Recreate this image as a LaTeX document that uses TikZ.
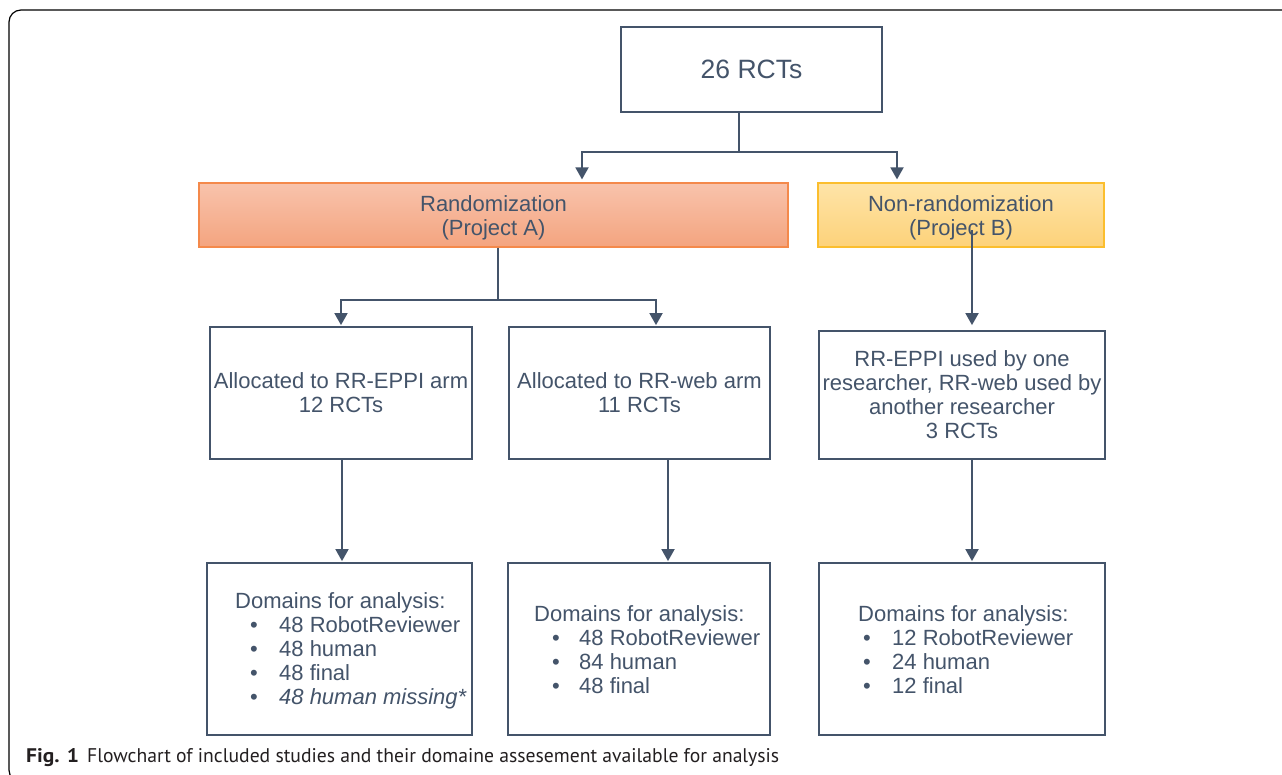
\documentclass[tikz,border=0pt]{standalone}
\usepackage{fontspec}
\setmainfont{Liberation Sans}
\newfontfamily\capfont{PT Sans}
\usetikzlibrary{arrows.meta}
\definecolor{ink}{HTML}{44546A}
\definecolor{capink}{HTML}{231F20}
\definecolor{randtop}{HTML}{F8C3AC}
\definecolor{randbot}{HTML}{F4A47F}
\definecolor{randedge}{HTML}{F4894B}
\definecolor{nrtop}{HTML}{FEE4A8}
\definecolor{nrbot}{HTML}{FDD27A}
\definecolor{nredge}{HTML}{FBBE2E}
\newcommand{\bl}[3]{\hspace*{#1pt}\makebox[#2pt][l]{\textbullet}#3}
\begin{document}
\begin{tikzpicture}[x=1pt,y=-1pt,
  box/.style={draw=ink, line width=1.8pt, fill=white, text=ink, align=center,
    font=\fontsize{22}{24}\selectfont, inner sep=0pt},
  projbox/.style={line width=1.2pt, text=ink, align=center,
    font=\fontsize{22}{24}\selectfont, inner sep=0pt},
  txt/.style={text=ink, align=left, font=\fontsize{22}{24}\selectfont, inner sep=0pt},
  conn/.style={draw=ink, line width=1.8pt},
  arr/.style={conn, -{Triangle[width=13pt,length=12pt]}}]
\useasboundingbox (0,0) rectangle (1282,774);
\fill[white] (0,0) rectangle (1282,774);
\begin{scope}
\clip (0,0) rectangle (1282,774);
\draw[black, line width=1.2pt, rounded corners=12pt] (9,10) rectangle (1300,782);
\end{scope}

% boxes
\node[box, minimum width=261pt, minimum height=85pt, font=\fontsize{26.5}{28}\selectfont] (top) at (751.5,69.5) {26 RCTs};
\node[projbox, draw=randedge, top color=randtop, bottom color=randbot,
  minimum width=589pt, minimum height=64pt] (rand) at (493.5,215) {\rule{0pt}{22pt}Randomization\\(Project A)};
\node[projbox, draw=nredge, top color=nrtop, bottom color=nrbot,
  minimum width=286pt, minimum height=64pt] (nonrand) at (961,215) {\rule{0pt}{22pt}Non-randomization\\(Project B)};

\node[box, minimum width=262pt, minimum height=132pt] (eppi) at (341,393) {Allocated to RR-EPPI arm\\12 RCTs};
\node[box, minimum width=261pt, minimum height=132pt] (web) at (639.5,393) {Allocated to RR-web arm\\11 RCTs};
\node[box, minimum width=286pt, minimum height=128pt] (both) at (962,395) {RR-EPPI used by one\\researcher, RR-web used by\\another researcher\\3 RCTs};

\node[box, minimum width=265pt, minimum height=172pt] (dom1) at (339.5,649) {};
\node[box, minimum width=262pt, minimum height=172pt] (dom2) at (639,649) {};
\node[box, minimum width=286pt, minimum height=172pt] (dom3) at (962,649) {};

\node[txt, anchor=west] (t1) at (235,650.5) {Domains for analysis:\\
  \bl{15}{29}{48 RobotReviewer}\\
  \bl{15}{29}{48 human}\\
  \bl{15}{29}{48 final}\\
  \bl{15}{29}{\itshape 48 human missing*}};
\node[txt, anchor=west] (t2) at (534,649.5) {Domains for analysis:\\
  \bl{18}{27}{48 RobotReviewer}\\
  \bl{18}{27}{84 human}\\
  \bl{18}{27}{48 final}};
\node[txt, anchor=west] (t3) at (858,649.5) {Domains for analysis:\\
  \bl{5}{29}{12 RobotReviewer}\\
  \bl{5}{29}{24 human}\\
  \bl{5}{29}{12 final}};

% connectors
\coordinate (j1) at (739,152);
\draw[conn] (top.south -| j1) -- (j1);
\draw[arr, shorten >=3pt] (j1) -| ([xshift=88.5pt]rand.north);
\draw[arr, shorten >=3pt] (j1) -| ([xshift=-64pt]nonrand.north);

\coordinate (j2) at (498,300);
\draw[conn] (rand.south -| j2) -- (j2);
\draw[arr, shorten >=1pt] (j2) -| (eppi.north);
\draw[arr, shorten >=1pt] (j2) -| ([xshift=16.5pt]web.north);

\coordinate (j3) at (972,230);
\draw[arr, shorten >=5pt] (j3) -- (j3 |- both.north);

\draw[arr, shorten >=1pt] ([xshift=1pt]eppi.south) -- ([xshift=1pt]eppi.south |- dom1.north);
\draw[arr, shorten >=1pt] ([xshift=28.5pt]web.south) -- ([xshift=28.5pt]web.south |- dom2.north);
\draw[arr, shorten >=1pt] ([xshift=10pt]both.south) -- ([xshift=10pt]both.south |- dom3.north);

% caption
\node[anchor=base west, inner sep=0pt, text=capink] (figlab) at (26,762)
  {\resizebox{53pt}{14pt}{\capfont\bfseries Fig. 1}};
\node[anchor=base west, inner sep=0pt, text=capink] (figcap) at (87,762)
  {\resizebox{692pt}{14pt}{\capfont Flowchart of included studies and their domaine assesement available for analysis}};
\end{tikzpicture}
\end{document}
